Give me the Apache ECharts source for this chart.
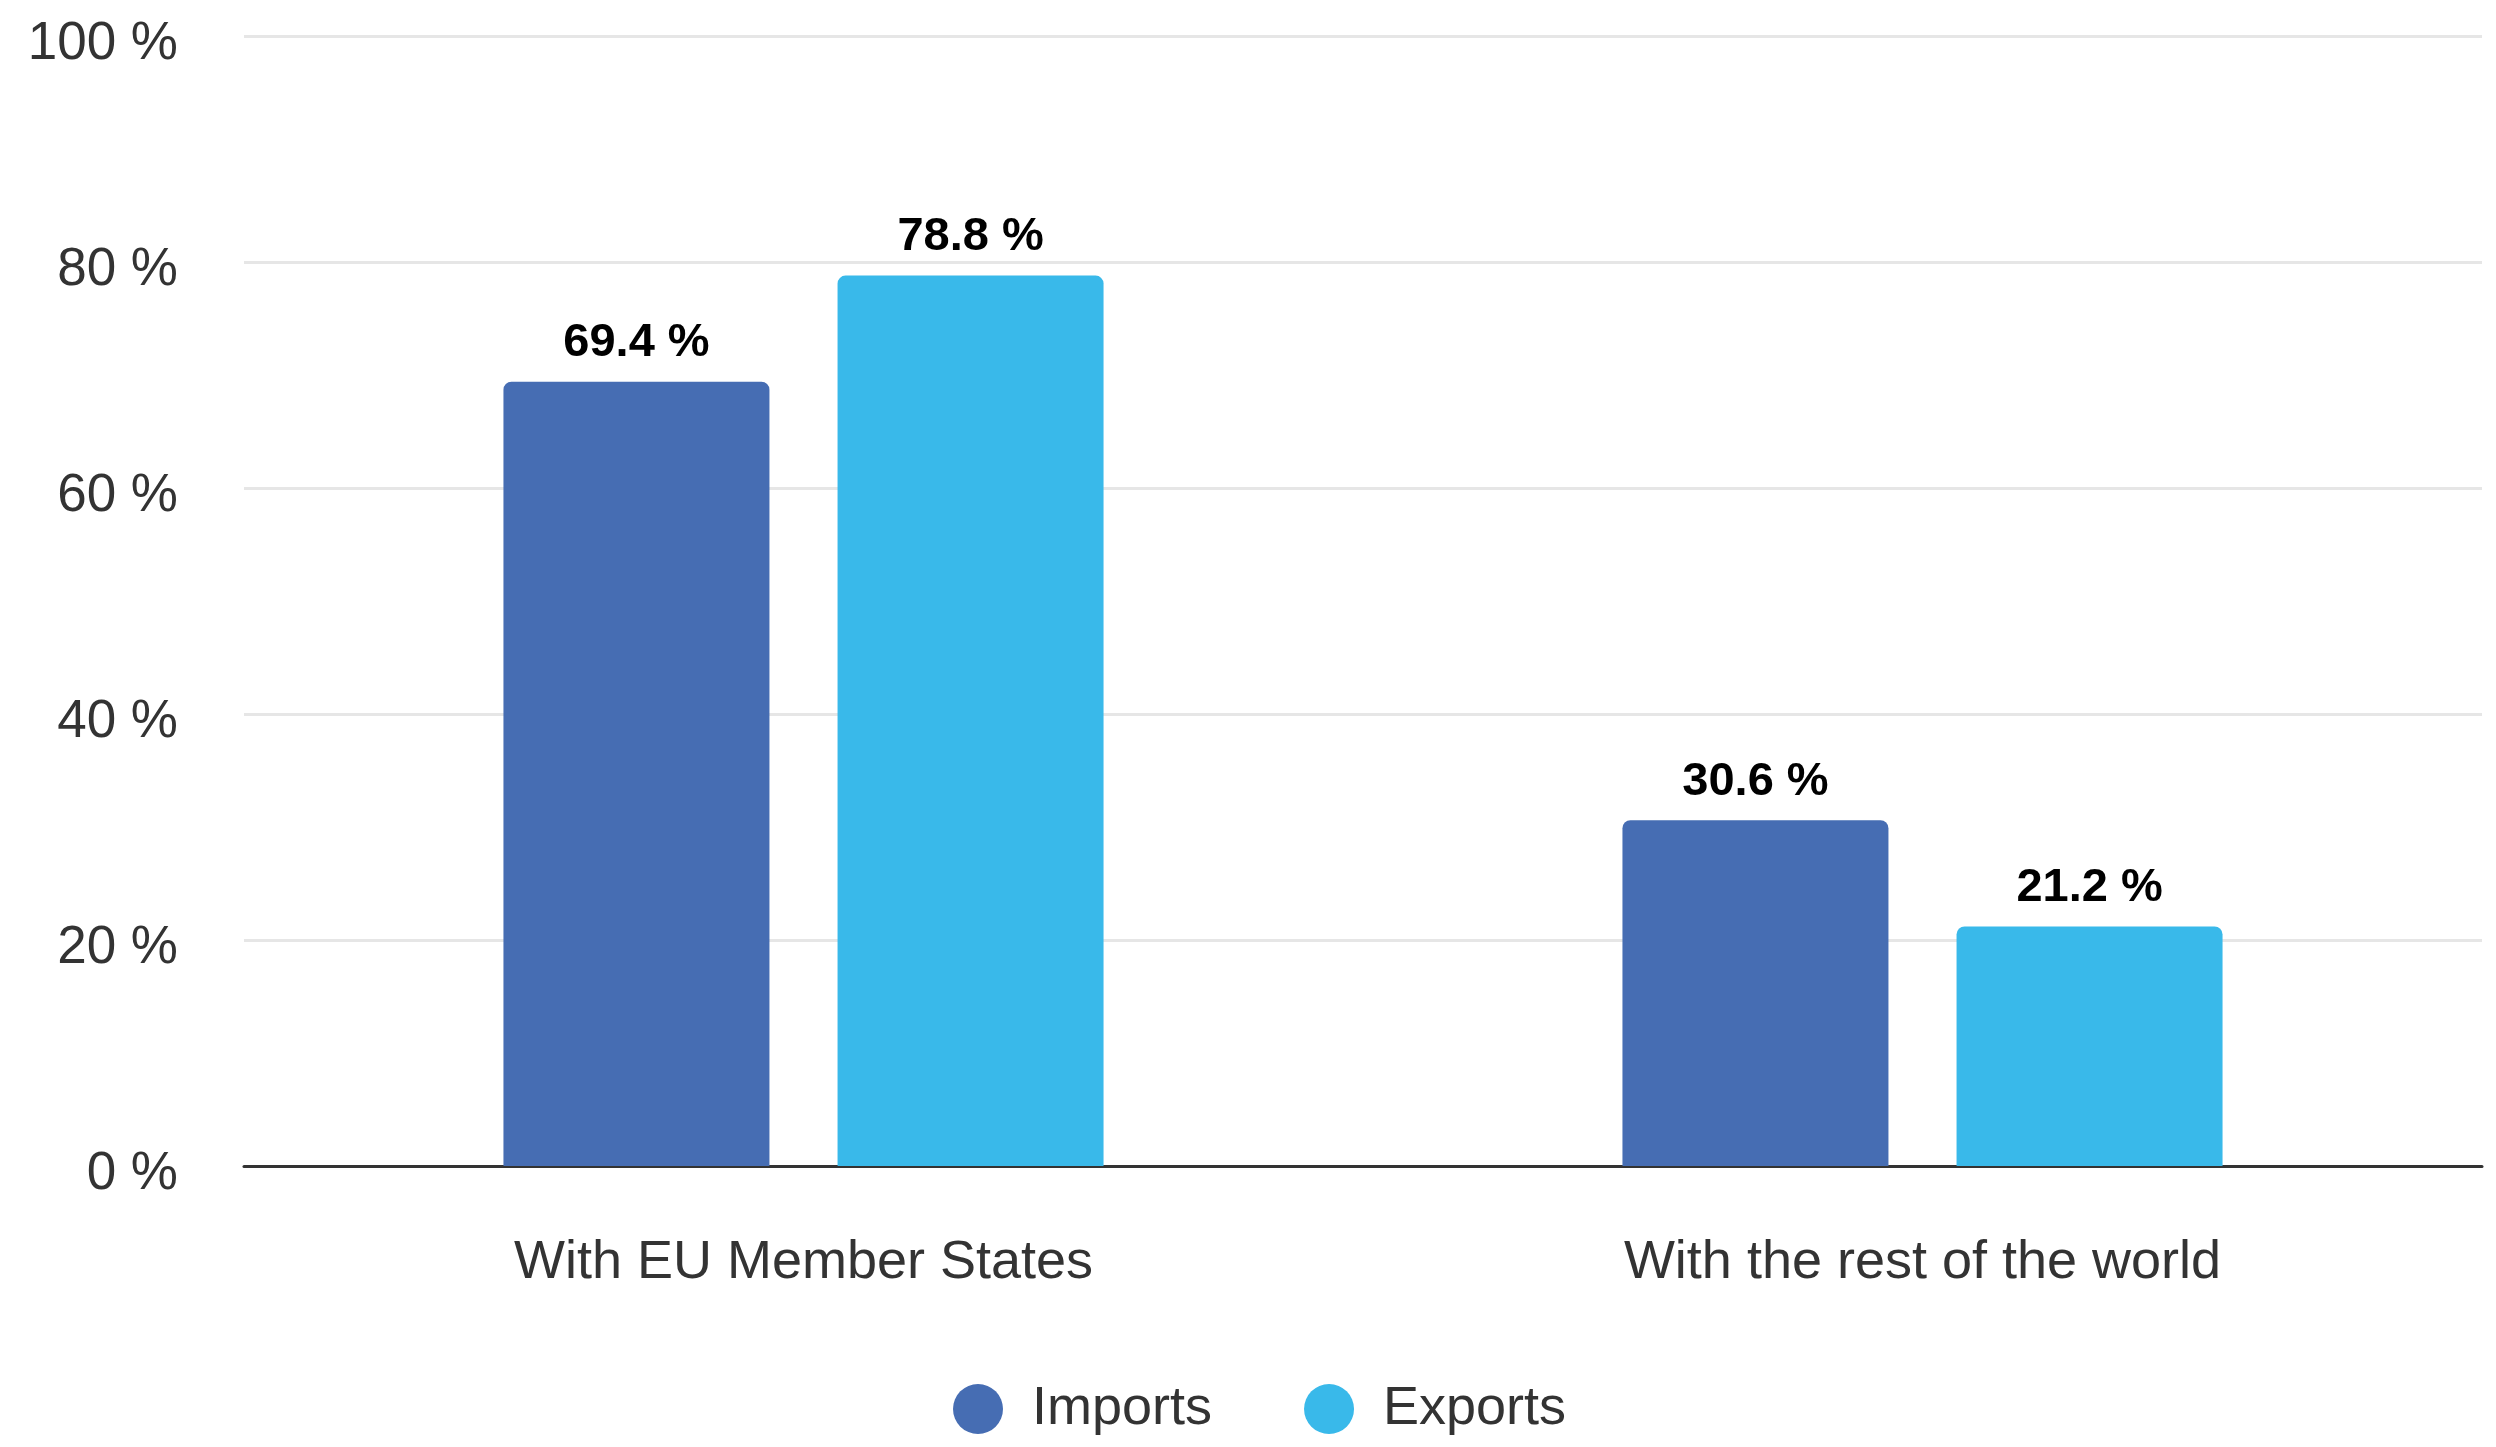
<!DOCTYPE html>
<html>
<head>
<meta charset="utf-8">
<script src="https://cdn.jsdelivr.net/npm/echarts@6/dist/echarts.min.js"></script>
<style>
html,body{margin:0;padding:0;background:#fff;}
#chart{width:2496px;height:1447px;}
</style>
</head>
<body>
<div id="chart"></div>
<script>
const categories = ["With EU Member States", "With the rest of the world"];
const importsValues = [69.4, 30.6];
const exportsValues = [78.8, 21.2];
const seriesNames = ["Imports", "Exports"];
const yTicks = [0, 20, 40, 60, 80, 100];

const FONT = '"Liberation Sans", Arial, Helvetica, sans-serif';
const chart = echarts.init(document.getElementById('chart'), null, {renderer: 'canvas'});

function fmt(v) { return v.toFixed(1) + ' %'; }

const labelCfg = {
  show: true,
  position: 'top',
  distance: 15,
  color: '#000',
  fontFamily: FONT,
  fontWeight: 'bold',
  fontSize: 47,
  formatter: p => fmt(p.value)
};

chart.setOption({
  animation: false,
  backgroundColor: '#fff',
  grid: {left: 244, right: 14, top: 36, bottom: 281, containLabel: false},
  legend: {
    data: seriesNames,
    top: 1377,
    left: 948,
    icon: 'circle',
    itemWidth: 50,
    itemHeight: 50,
    itemGap: 92,
    textStyle: {fontFamily: FONT, fontSize: 54, color: '#333', padding: [0, 0, 0, 24]}
  },
  xAxis: {
    type: 'category',
    data: categories,
    axisLine: {show: true, lineStyle: {color: '#333', width: 3}},
    axisTick: {show: false},
    axisLabel: {fontFamily: FONT, fontSize: 54, color: '#333', margin: 70}
  },
  yAxis: {
    type: 'value',
    min: yTicks[0],
    max: yTicks[yTicks.length - 1],
    interval: 20,
    axisLine: {show: false},
    axisTick: {show: false},
    axisLabel: {
      margin: 66,
      formatter: v => '{t|' + v + ' %}',
      rich: {t: {fontFamily: FONT, fontSize: 53, color: '#333', padding: [16, 0, 0, 0]}}
    },
    splitLine: {show: true, lineStyle: {color: '#e6e6e6', width: 3}}
  },
  series: [
    {
      name: seriesNames[0],
      type: 'bar',
      data: importsValues,
      barWidth: 266,
      barGap: '25.6%',
      itemStyle: {color: '#466db3', borderRadius: [8, 8, 0, 0]},
      label: labelCfg
    },
    {
      name: seriesNames[1],
      type: 'bar',
      data: exportsValues,
      barWidth: 266,
      itemStyle: {color: '#39b9ea', borderRadius: [8, 8, 0, 0]},
      label: labelCfg
    }
  ]
});
</script>
</body>
</html>
